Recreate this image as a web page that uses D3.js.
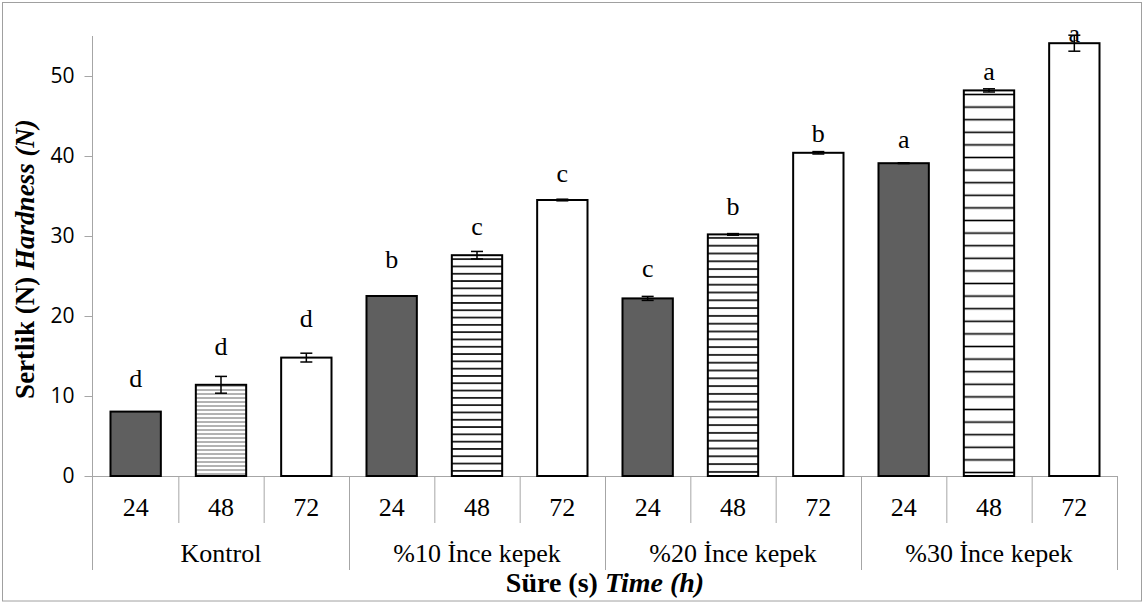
<!DOCTYPE html>
<html>
<head>
<meta charset="utf-8">
<script src="https://cdn.jsdelivr.net/npm/d3@7"></script>
<style>
body{margin:0;background:#fff;}
svg{display:block;}
</style>
</head>
<body>
<svg id="chart" width="1145" height="604"></svg>
<script>
// values
groups = ["Kontrol", "%10 İnce kepek", "%20 İnce kepek", "%30 İnce kepek"];
times = ["24", "48", "72"];
hardness = [8.05, 11.4, 14.8, 22.5, 27.6, 34.5, 22.2, 30.2, 40.4, 39.1, 48.2, 54.1];
errorSD = [0, 1.05, 0.55, 0, 0.47, 0.1, 0.25, 0.1, 0.15, 0.05, 0.2, 1.0];
letters = ["d", "d", "d", "b", "c", "c", "c", "b", "b", "a", "a", "a"];
letterLevel = [11.1, 15.1, 18.6, 26.0, 30.1, 36.8, 24.9, 32.6, 41.75, 41.0, 49.5, 54.25];
yTicks = [0, 10, 20, 30, 40, 50];

var rows = [];
groups.forEach(function (g, gi) {
    times.forEach(function (t, ti) {
        var k = gi * times.length + ti;
        rows.push({id: gi + "-" + t, group: gi, time: ti, label: t,
            value: hardness[k], err: errorSD[k], letter: letters[k], level: letterLevel[k]});
    });
});

var svg = d3.select("#chart");
var serif = "'Liberation Serif','Times New Roman',serif";
var axisGrey = "#a6a6a6";

// outer frame
svg.append("rect").attr("x", 2.5).attr("y", 2.5).attr("width", 1139).attr("height", 598.5)
    .attr("fill", "none").attr("stroke", "#a0a0a0").attr("stroke-width", 1);

var y = d3.scaleLinear().domain([0, 55]).range([476, 36]);
var x = d3.scaleBand().domain(rows.map(d => d.id)).range([93, 1117])
    .paddingInner(0.41).paddingOuter(0.205);
var step = x.step();
var left = x.range()[0];

// hatch patterns for the 48 h bars (Excel pattern renders at different pitch per group)
var hatchGap = [4, 7.3, 7.8, 12.6];
var hatchInk = ["#666", "#000", "#000", "#000"];
var defs = svg.append("defs");
hatchGap.forEach(function (g, i) {
    var p = defs.append("pattern").attr("id", "hatch" + i)
        .attr("patternUnits", "userSpaceOnUse").attr("width", 8).attr("height", g);
    p.append("rect").attr("width", 8).attr("height", g).attr("fill", "#fff");
    p.append("line").attr("x1", 0).attr("x2", 8).attr("y1", g / 2).attr("y2", g / 2)
        .attr("stroke", hatchInk[i]).attr("stroke-width", i == 0 ? 1 : 1.6);
});

function fillFor(d) {
    if (d.time == 0) return "#5f5f5f";
    if (d.time == 1) return "url(#hatch" + d.group + ")";
    return "#fff";
}

// y axis
var yAxis = d3.axisLeft(y).tickValues(yTicks).tickSize(8).tickPadding(10);
var ya = svg.append("g").attr("transform", "translate(92.5,0)").call(yAxis);
ya.select(".domain").remove();
ya.selectAll(".tick line").attr("stroke", axisGrey);
ya.selectAll(".tick text").attr("font-family", "'Open Sans',sans-serif")
    .attr("font-size", 21).attr("fill", "#000");
svg.append("line").attr("x1", 92.5).attr("x2", 92.5).attr("y1", 36).attr("y2", 570)
    .attr("stroke", axisGrey);

// x axis line and category separators
svg.append("line").attr("x1", left).attr("x2", x.range()[1]).attr("y1", 476.5).attr("y2", 476.5)
    .attr("stroke", axisGrey);
svg.selectAll(".sep").data(d3.range(1, rows.length + 1)).enter().append("line")
    .attr("class", "sep")
    .attr("x1", i => left + i * step + 0.5).attr("x2", i => left + i * step + 0.5)
    .attr("y1", 476).attr("y2", i => i % 3 == 0 ? 570 : 523)
    .attr("stroke", axisGrey);

// bars
svg.selectAll(".bar").data(rows).enter().append("rect")
    .attr("class", "bar")
    .attr("x", d => x(d.id)).attr("width", x.bandwidth())
    .attr("y", d => y(d.value)).attr("height", d => y(0) - y(d.value))
    .attr("fill", fillFor).attr("stroke", "#000").attr("stroke-width", 2);

// error bars
var eb = svg.selectAll(".err").data(rows.filter(d => d.err > 0)).enter().append("g").attr("class", "err");
eb.append("line").attr("x1", d => x(d.id) + x.bandwidth() / 2).attr("x2", d => x(d.id) + x.bandwidth() / 2)
    .attr("y1", d => y(d.value + d.err)).attr("y2", d => y(d.value - d.err));
eb.append("line").attr("x1", d => x(d.id) + x.bandwidth() / 2 - 6).attr("x2", d => x(d.id) + x.bandwidth() / 2 + 6)
    .attr("y1", d => y(d.value + d.err)).attr("y2", d => y(d.value + d.err));
eb.append("line").attr("x1", d => x(d.id) + x.bandwidth() / 2 - 6).attr("x2", d => x(d.id) + x.bandwidth() / 2 + 6)
    .attr("y1", d => y(d.value - d.err)).attr("y2", d => y(d.value - d.err));
eb.selectAll("line").attr("stroke", "#000").attr("stroke-width", 1.5);

// significance letters
svg.selectAll(".letter").data(rows).enter().append("text")
    .attr("class", "letter")
    .attr("x", d => x(d.id) + x.bandwidth() / 2).attr("y", d => y(d.level))
    .attr("text-anchor", "middle").attr("font-family", serif).attr("font-size", 26)
    .text(d => d.letter);

// category labels
svg.selectAll(".cat").data(rows).enter().append("text")
    .attr("class", "cat")
    .attr("x", d => x(d.id) + x.bandwidth() / 2).attr("y", 516)
    .attr("text-anchor", "middle").attr("font-family", serif).attr("font-size", 26)
    .text(d => d.label);

svg.selectAll(".grp").data(groups).enter().append("text")
    .attr("class", "grp")
    .attr("x", (d, i) => left + (i * 3 + 1.5) * step).attr("y", 562)
    .attr("text-anchor", "middle").attr("font-family", serif).attr("font-size", 26)
    .text(d => d);

// axis titles
var xt = svg.append("text").attr("x", (left + x.range()[1]) / 2).attr("y", 592)
    .attr("text-anchor", "middle").attr("font-family", serif).attr("font-size", 28)
    .attr("font-weight", "bold");
xt.append("tspan").text("Süre (s) ");
xt.append("tspan").attr("font-style", "italic").text("Time (h)");

var yt = svg.append("text").attr("transform", "translate(34,259) rotate(-90)")
    .attr("text-anchor", "middle").attr("font-family", serif).attr("font-size", 27)
    .attr("font-weight", "bold");
yt.append("tspan").text("Sertlik (N) ");
yt.append("tspan").attr("font-style", "italic").text("Hardness (N)");
</script>
</body>
</html>
